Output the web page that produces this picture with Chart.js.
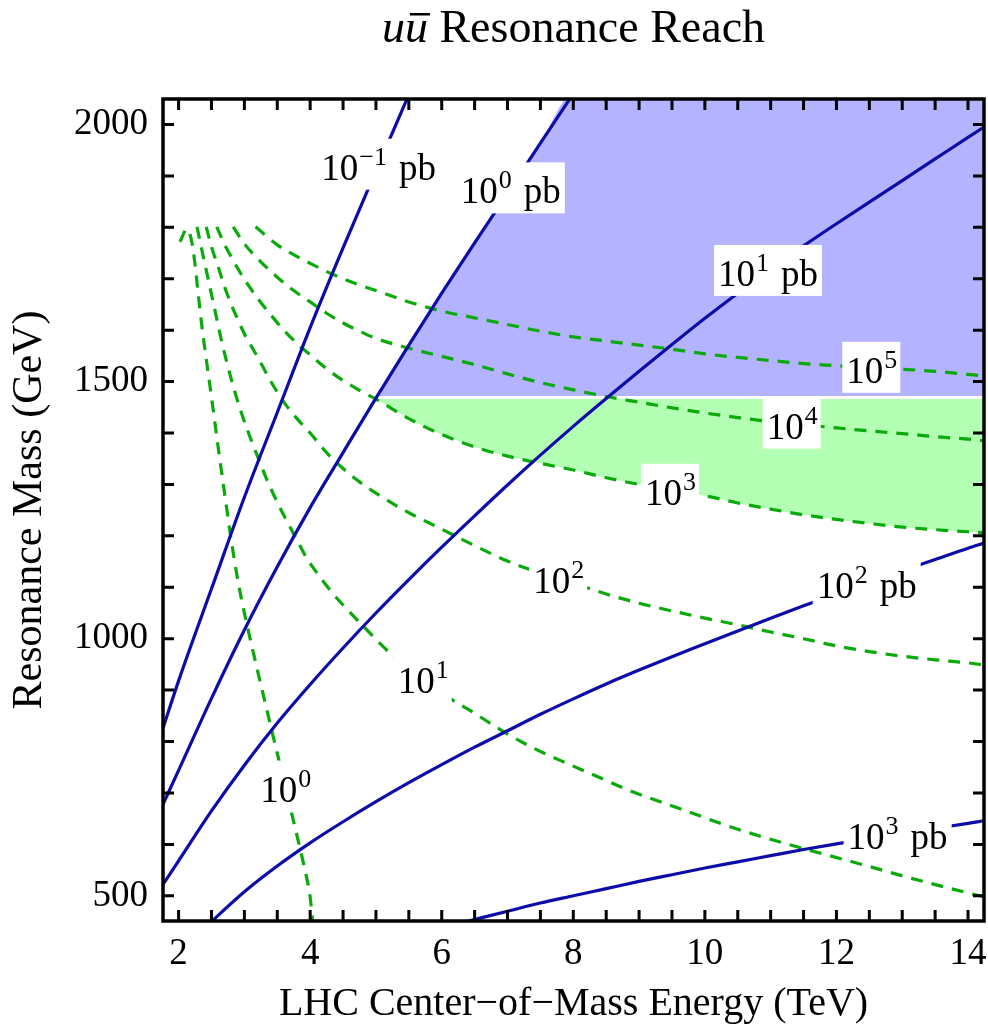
<!DOCTYPE html>
<html lang="en">
<head>
  <meta charset="UTF-8" />
  <title>uū Resonance Reach</title>
  <script src="https://cdn.jsdelivr.net/npm/chart.js"></script>
  <style>
    html, body { margin: 0; padding: 0; background: #fff; }
    #wrap { width: 988px; height: 1029px; }
  </style>
</head>
<body>
  <div id="wrap"><canvas id="reach" width="988" height="1029"></canvas></div>

  <script>
    // plot range: LHC energy (TeV) and resonance mass (GeV)
    const energyRange = [1.763, 14.243];
    const massRange = [451, 2049.6];
    const energyLabels = [2, 4, 6, 8, 10, 12, 14];
    const massLabels = [500, 1000, 1500, 2000];

    // solid contours of constant cross section, points are [TeV, GeV]
    const xsecLevels = ['\u22121', '0', '1', '2', '3'];
    const xsec_m1 = [[1.763, 826], [2.0, 918], [2.5, 1097], [3.0, 1275], [3.5, 1440], [4.0, 1605],
      [4.5, 1760], [5.0, 1910], [5.5, 2058]];
    const xsec_0 = [[1.763, 678], [2.0, 744], [2.5, 884], [3.0, 1017], [3.5, 1140], [4.0, 1255],
      [4.5, 1362], [5.0, 1468], [5.5, 1571], [6.0, 1672], [6.5, 1770], [7.0, 1866], [7.5, 1964], [8.0, 2060]];
    const xsec_1 = [[1.763, 522], [2.0, 568], [2.5, 665], [3.0, 754], [3.5, 836], [4.0, 911], [4.5, 982],
      [5.0, 1050], [5.5, 1115], [6.0, 1178], [6.5, 1239], [7.0, 1299], [7.5, 1357], [8.0, 1413],
      [8.5, 1467], [9.0, 1520], [9.5, 1572], [10.0, 1623], [10.5, 1672], [11.0, 1719], [11.5, 1764],
      [12.0, 1807], [12.5, 1849], [13.0, 1891], [13.5, 1933], [14.0, 1975], [14.243, 1995]];
    const xsec_2 = [[2.44, 443], [3.0, 508], [3.5, 558], [4.0, 603], [4.5, 644], [5.0, 683], [5.5, 720],
      [6.0, 755], [6.5, 789], [7.0, 821], [7.5, 853], [8.0, 883], [8.5, 912], [9.0, 939], [9.5, 965],
      [10.0, 990], [10.5, 1015], [11.0, 1040], [11.5, 1064], [12.0, 1087], [12.5, 1110], [13.0, 1132],
      [13.5, 1154], [14.0, 1176], [14.243, 1186]];
    const xsec_3 = [[6.35, 449], [7.0, 470], [7.5, 486], [8.0, 500], [8.5, 514], [9.0, 528], [9.5, 541],
      [10.0, 554], [10.5, 566], [11.0, 578], [11.5, 590], [12.0, 601], [12.5, 611], [13.0, 621],
      [13.5, 631], [14.0, 641], [14.243, 646]];

    // dashed contours of constant number of events
    const eventLevels = ['0', '1', '2', '3', '4', '5'];
    const events_0 = [[2.02, 1772], [2.13, 1797], [2.20, 1772], [2.25, 1728], [2.30, 1668], [2.35, 1612],
      [2.40, 1563], [2.45, 1516], [2.50, 1470], [2.60, 1374], [2.70, 1282], [2.80, 1192], [2.90, 1114],
      [3.00, 1050], [3.10, 993], [3.20, 938], [3.30, 884], [3.40, 830], [3.50, 777], [3.60, 723],
      [3.70, 670], [3.80, 617], [3.90, 562], [4.00, 497], [4.04, 449]];
    const events_1 = [[2.28, 1801], [2.36, 1752], [2.44, 1705], [2.55, 1640], [2.655, 1578], [2.74, 1534],
      [2.83, 1491], [2.93, 1449], [3.04, 1408], [3.19, 1358], [3.34, 1310], [3.49, 1268], [3.64, 1230],
      [3.8, 1192], [3.95, 1156], [4.15, 1120], [4.33, 1090], [4.6, 1052], [4.81, 1024], [5.06, 991],
      [5.26, 967], [5.5, 942], [6.15, 882], [6.5, 855], [6.93, 820], [7.4, 787], [7.95, 755], [8.4, 730],
      [8.81, 707], [9.3, 684], [9.825, 660], [10.3, 638], [10.84, 616], [11.55, 590], [12.36, 562],
      [13.17, 533], [14.08, 503], [14.243, 498]];
    const events_2 = [[2.42, 1801], [2.5, 1762], [2.6, 1724], [2.7, 1684], [2.8, 1650], [2.9, 1621],
      [3.0, 1593], [3.2, 1548], [3.4, 1501], [3.6, 1460], [3.8, 1428], [4.0, 1400], [4.25, 1362],
      [4.5, 1331], [4.75, 1305], [5.0, 1283], [5.5, 1245], [6.0, 1213], [6.5, 1181], [7.0, 1151],
      [7.5, 1128], [8.0, 1108], [8.5, 1087], [9.0, 1069], [9.5, 1054], [10.0, 1040], [10.5, 1027],
      [11.0, 1013], [11.5, 1000], [12.0, 986], [12.5, 975], [13.0, 966], [13.5, 959], [14.0, 953],
      [14.243, 949]];
    const events_3 = [[2.58, 1801], [2.7, 1766], [2.8, 1743], [2.9, 1720], [3.0, 1699], [3.2, 1662],
      [3.4, 1630], [3.6, 1600], [3.8, 1574], [4.0, 1552], [4.25, 1525], [4.5, 1502], [4.75, 1483],
      [5.0, 1466], [5.5, 1428], [6.0, 1397], [6.5, 1373], [7.0, 1355], [7.5, 1341], [8.0, 1328],
      [8.5, 1313], [9.0, 1300], [9.5, 1289], [10.0, 1278], [10.5, 1264], [11.0, 1252], [11.5, 1241],
      [12.0, 1232], [12.5, 1224], [13.0, 1217], [13.5, 1212], [14.0, 1208], [14.243, 1206]];
    const events_4 = [[2.83, 1801], [3.0, 1768], [3.25, 1733], [3.5, 1703], [3.75, 1677], [4.0, 1655],
      [4.25, 1633], [4.5, 1614], [4.75, 1598], [5.0, 1584], [5.5, 1565], [6.0, 1549], [6.5, 1533],
      [7.0, 1515], [7.5, 1498], [8.0, 1484], [8.5, 1471], [9.0, 1460], [9.5, 1449], [10.0, 1439],
      [10.5, 1430], [11.0, 1422], [11.5, 1416], [12.0, 1410], [12.5, 1404], [13.0, 1399], [13.5, 1393],
      [14.0, 1388], [14.243, 1385]];
    const events_5 = [[3.17, 1801], [3.5, 1766], [4.0, 1730], [4.5, 1700], [5.0, 1677], [5.5, 1655],
      [6.0, 1637], [6.5, 1624], [7.0, 1611], [7.5, 1598], [8.0, 1587], [8.5, 1579], [9.0, 1571],
      [9.5, 1563], [10.0, 1554], [10.5, 1547], [11.0, 1541], [11.5, 1535], [12.0, 1531], [12.5, 1527],
      [13.0, 1524], [13.5, 1520], [14.0, 1514], [14.243, 1511]];

    // mass reach separating the two shaded bands (GeV)
    const reachMass = 1470;

    // where along each contour its label sits (TeV)
    const xsecLabelX = [5.04, 7.05, 10.96, 12.46, 12.93];
    const eventLabelX = [3.62, 5.71, 7.77, 9.47, 11.32, 12.53];

    const xsecCurves = [xsec_m1, xsec_0, xsec_1, xsec_2, xsec_3];
    const eventCurves = [events_0, events_1, events_2, events_3, events_4, events_5];

    const SERIF = '"Liberation Serif", "Times New Roman", serif';
    const BLUE = '#0c0ca8';
    const GREEN = '#0aaa0a';

    const toPoints = arr => arr.map(([x, y]) => ({ x, y }));

    // x where a contour first crosses a given mass
    function crossAt(curve, level) {
      for (let i = 1; i < curve.length; i++) {
        const [x0, y0] = curve[i - 1], [x1, y1] = curve[i];
        if ((y0 - level) * (y1 - level) <= 0) return x0 + (level - y0) * (x1 - x0) / (y1 - y0);
      }
      return curve[0][0];
    }

    // mass on a contour at a given energy
    function valueAt(curve, x) {
      for (let i = 1; i < curve.length; i++) {
        const [x0, y0] = curve[i - 1], [x1, y1] = curve[i];
        if (x >= x0 && x <= x1) return y0 + (x - x0) * (y1 - y0) / (x1 - x0);
      }
      return curve[curve.length - 1][1];
    }

    // shaded bands, split by a thin white gap at the reach mass
    const blueEdge = reachMass + 2;
    const greenEdge = reachMass - 4;
    const blueBand = [{ x: crossAt(xsec_0, blueEdge), y: blueEdge }]
      .concat(toPoints(xsec_0.filter(p => p[1] > blueEdge)))
      .concat([{ x: energyRange[1], y: massRange[1] }]);
    const greenBand = [{ x: crossAt(events_3, greenEdge), y: greenEdge }]
      .concat(toPoints(events_3.filter(p => p[1] < greenEdge)));

    const datasets = [];
    xsecCurves.forEach(c => datasets.push({
      data: toPoints(c), borderColor: BLUE, borderWidth: 3.2, fill: false,
      cubicInterpolationMode: 'monotone', order: 1
    }));
    eventCurves.forEach(c => datasets.push({
      data: toPoints(c), borderColor: GREEN, borderWidth: 3.2, borderDash: [12, 9], fill: false,
      cubicInterpolationMode: 'monotone', order: 2
    }));
    datasets.push({
      data: blueBand, borderColor: 'rgba(0,0,0,0)', backgroundColor: '#b3b3ff',
      fill: { value: blueEdge }, cubicInterpolationMode: 'monotone', order: 5
    });
    datasets.push({
      data: greenBand, borderColor: 'rgba(0,0,0,0)', backgroundColor: '#b3ffb3',
      fill: { value: greenEdge }, cubicInterpolationMode: 'monotone', order: 5
    });

    // contour labels "10^n" (+ " pb") on white boxes
    const contourLabels = {
      id: 'contourLabels',
      afterDatasetsDraw(chart) {
        const { ctx, scales: { x, y } } = chart;
        const base = `37px ${SERIF}`, sup = `26px ${SERIF}`;
        const items = [];
        xsecCurves.forEach((c, i) => items.push({ curve: c, at: xsecLabelX[i], exp: xsecLevels[i], unit: 'pb' }));
        eventCurves.forEach((c, i) => items.push({ curve: c, at: eventLabelX[i], exp: eventLevels[i], unit: '' }));
        ctx.save();
        ctx.textBaseline = 'alphabetic';
        ctx.textAlign = 'left';
        items.forEach(it => {
          const px = x.getPixelForValue(it.at);
          const py = y.getPixelForValue(valueAt(it.curve, it.at));
          ctx.font = base;
          const wTen = ctx.measureText('10').width;
          const wUnit = it.unit ? ctx.measureText(it.unit).width + 13 : 0;
          ctx.font = sup;
          const wExp = ctx.measureText(it.exp).width;
          const w = wTen + wExp + wUnit;
          const left = px - w / 2;
          ctx.fillStyle = '#fff';
          ctx.fillRect(left - 4, py - 26, w + 8, 51);
          ctx.fillStyle = '#000';
          ctx.font = base;
          ctx.fillText('10', left, py + 15);
          if (it.unit) ctx.fillText(it.unit, left + wTen + wExp + 13, py + 15);
          ctx.font = sup;
          ctx.fillText(it.exp, left + wTen + 1, py);
        });
        ctx.restore();
      }
    };

    // black frame with inward ticks on every side
    const frame = {
      id: 'frame',
      afterDatasetsDraw(chart) {
        const { ctx, chartArea: a, scales: { x, y } } = chart;
        const len = 11;
        ctx.save();
        ctx.strokeStyle = '#000';
        ctx.lineWidth = 3;
        ctx.beginPath();
        x.ticks.forEach(t => {
          const p = x.getPixelForValue(t.value);
          ctx.moveTo(p, a.bottom); ctx.lineTo(p, a.bottom - len);
          ctx.moveTo(p, a.top); ctx.lineTo(p, a.top + len);
        });
        y.ticks.forEach(t => {
          const p = y.getPixelForValue(t.value);
          ctx.moveTo(a.left, p); ctx.lineTo(a.left + len, p);
          ctx.moveTo(a.right, p); ctx.lineTo(a.right - len, p);
        });
        ctx.stroke();
        ctx.lineWidth = 3.5;
        ctx.strokeRect(a.left, a.top, a.right - a.left, a.bottom - a.top);
        ctx.restore();
      }
    };

    // plot label: italic u u-bar, then the roman text
    const plotTitle = {
      id: 'plotTitle',
      afterDraw(chart) {
        const { ctx, chartArea: a } = chart;
        const ital = `italic 46px ${SERIF}`, rom = `46px ${SERIF}`;
        const rest = ' Resonance Reach';
        ctx.save();
        ctx.font = ital;
        const wU = ctx.measureText('u').width;
        const wUU = ctx.measureText('uu').width;
        ctx.font = rom;
        const wRest = ctx.measureText(rest).width;
        const x0 = (a.left + a.right) / 2 - (wUU + wRest) / 2;
        const base = 42;
        ctx.fillStyle = '#000';
        ctx.textAlign = 'left';
        ctx.textBaseline = 'alphabetic';
        ctx.font = ital;
        ctx.fillText('uu', x0, base);
        ctx.fillRect(x0 + wU + 5, base - 29, wU - 3, 2.5);
        ctx.font = rom;
        ctx.fillText(rest, x0 + wUU, base);
        ctx.restore();
      }
    };

    const minorTicks = (lo, hi, step) => {
      const out = [];
      for (let v = Math.ceil(lo / step) * step; v <= hi + 1e-9; v += step) out.push(+v.toFixed(3));
      return out;
    };

    // fixed axis boxes, so the frame stays put whatever the label overhang
    const fixBox = size => s => {
      if (s.isHorizontal()) s.height = size; else s.width = size;
      s.paddingLeft = 0; s.paddingRight = 0; s.paddingTop = 0; s.paddingBottom = 0;
    };

    new Chart(document.getElementById('reach'), {
      type: 'line',
      data: { datasets },
      options: {
        responsive: false,
        animation: false,
        devicePixelRatio: 1,
        events: [],
        layout: { padding: { left: 0, top: 99, right: 4, bottom: 0 } },
        elements: { point: { radius: 0 }, line: { borderCapStyle: 'butt' } },
        plugins: { legend: { display: false }, tooltip: { enabled: false } },
        scales: {
          x: {
            type: 'linear',
            min: energyRange[0],
            max: energyRange[1],
            bounds: 'data',
            afterBuildTicks: s => { s.ticks = minorTicks(energyRange[0], energyRange[1], 0.5).map(v => ({ value: v })); },
            afterFit: fixBox(108),
            grid: { display: false, drawTicks: false },
            border: { display: false },
            ticks: {
              autoSkip: false, maxRotation: 0, padding: 11, color: '#000',
              font: { family: SERIF, size: 37 },
              callback: v => energyLabels.includes(v) ? String(v) : ''
            },
            title: {
              display: true, text: 'LHC Center\u2212of\u2212Mass Energy (TeV)', color: '#000',
              font: { family: SERIF, size: 40 }, padding: { top: 0, bottom: 1 }
            }
          },
          y: {
            type: 'linear',
            min: massRange[0],
            max: massRange[1],
            bounds: 'data',
            afterBuildTicks: s => { s.ticks = minorTicks(massRange[0], massRange[1], 100).map(v => ({ value: v })); },
            afterFit: fixBox(163),
            grid: { display: false, drawTicks: false },
            border: { display: false },
            ticks: {
              autoSkip: false, padding: 15, color: '#000',
              font: { family: SERIF, size: 37 },
              callback: v => massLabels.includes(v) ? String(v) : ''
            },
            title: {
              display: true, text: 'Resonance Mass (GeV)', color: '#000',
              font: { family: SERIF, size: 42 }, padding: { top: 5, bottom: 0 }
            }
          }
        }
      },
      plugins: [contourLabels, frame, plotTitle]
    });
  </script>
</body>
</html>
